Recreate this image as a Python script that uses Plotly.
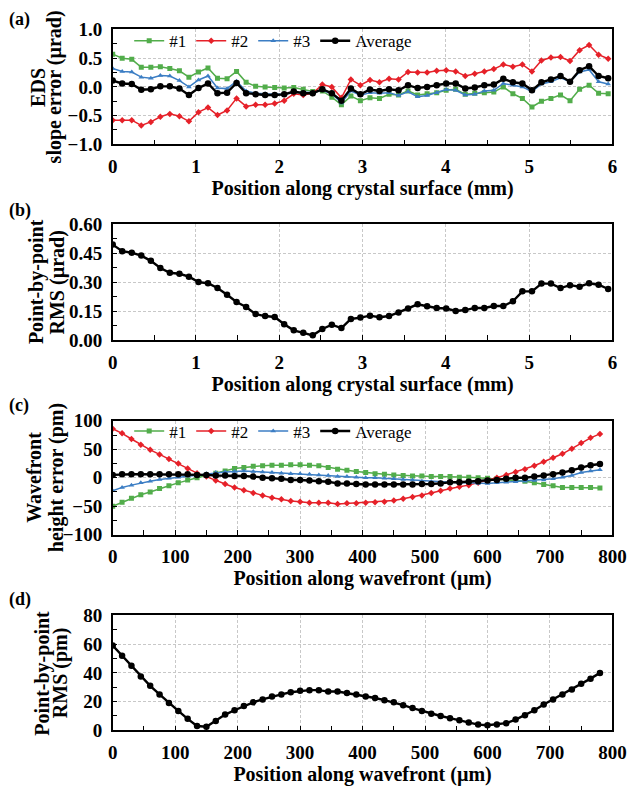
import plotly.graph_objects as go

# ---------------- data ----------------
# Panel (a)/(b): position along crystal surface (mm), 53 samples
pos_mm = [0.000, 0.114, 0.229, 0.343, 0.458, 0.572, 0.686, 0.801, 0.915, 1.030,
          1.144, 1.258, 1.373, 1.487, 1.602, 1.716, 1.830, 1.945, 2.059, 2.174,
          2.288, 2.402, 2.517, 2.631, 2.746, 2.860, 2.974, 3.089, 3.203, 3.318,
          3.432, 3.546, 3.661, 3.775, 3.890, 4.004, 4.118, 4.233, 4.347, 4.462,
          4.576, 4.690, 4.805, 4.919, 5.034, 5.148, 5.262, 5.377, 5.491, 5.606,
          5.720, 5.834, 5.949]

eds_1 = [0.57, 0.50, 0.48, 0.34, 0.34, 0.35, 0.32, 0.28, 0.17, 0.26,
         0.33, 0.15, 0.14, 0.27, 0.08, 0.01, 0.00, -0.01, -0.02, -0.01,
         -0.04, -0.08, -0.07, -0.18, -0.31, -0.16, -0.24, -0.19, -0.20, -0.13,
         -0.14, -0.07, -0.14, -0.12, -0.10, -0.06, -0.04, -0.13, -0.11, -0.10,
         -0.09, 0.00, -0.12, -0.20, -0.35, -0.25, -0.20, -0.14, -0.24, -0.04,
         0.03, -0.11, -0.12]
eds_2 = [-0.58, -0.58, -0.58, -0.67, -0.61, -0.52, -0.47, -0.51, -0.60, -0.44,
         -0.36, -0.49, -0.41, -0.20, -0.34, -0.31, -0.31, -0.29, -0.24, -0.12,
         -0.14, -0.11, 0.04, 0.00, -0.19, 0.13, 0.03, 0.12, 0.08, 0.14,
         0.13, 0.26, 0.25, 0.25, 0.28, 0.29, 0.27, 0.19, 0.23, 0.27,
         0.31, 0.39, 0.35, 0.39, 0.27, 0.46, 0.51, 0.52, 0.45, 0.64,
         0.73, 0.56, 0.49]
eds_3 = [0.32, 0.27, 0.26, 0.17, 0.15, 0.20, 0.19, 0.11, 0.00, 0.12,
         0.19, -0.02, -0.03, 0.10, -0.07, -0.11, -0.12, -0.13, -0.13, -0.10,
         -0.09, -0.10, -0.06, -0.12, -0.28, -0.07, -0.15, -0.10, -0.11, -0.10,
         -0.15, -0.085, -0.17, -0.15, -0.10, -0.045, -0.06, -0.14, -0.13, -0.07,
         -0.06, 0.06, 0.03, 0.00, -0.08, 0.05, 0.09, 0.16, 0.09, 0.26,
         0.30, 0.09, 0.05]
eds_avg = [0.11, 0.06, 0.05, -0.05, -0.04, 0.01, 0.01, -0.03, -0.14, -0.02,
           0.06, -0.11, -0.10, 0.07, -0.11, -0.13, -0.14, -0.14, -0.13, -0.08,
           -0.11, -0.11, -0.04, -0.11, -0.24, -0.03, -0.13, -0.045, -0.07, -0.04,
           -0.06, 0.03, -0.02, 0.00, 0.03, 0.06, 0.06, -0.03, -0.01, 0.03,
           0.04, 0.14, 0.08, 0.06, -0.06, 0.08, 0.13, 0.19, 0.09, 0.29,
           0.36, 0.19, 0.15]

rms_slope = [0.494, 0.460, 0.452, 0.437, 0.410, 0.373, 0.348, 0.343, 0.328, 0.300,
             0.294, 0.269, 0.234, 0.197, 0.171, 0.134, 0.124, 0.119, 0.082, 0.050,
             0.037, 0.024, 0.057, 0.079, 0.062, 0.109, 0.116, 0.126, 0.118, 0.124,
             0.143, 0.163, 0.185, 0.175, 0.166, 0.163, 0.150, 0.155, 0.166, 0.166,
             0.176, 0.176, 0.200, 0.252, 0.252, 0.292, 0.292, 0.269, 0.284, 0.276,
             0.294, 0.286, 0.264]

# Panel (c)/(d): position along wavefront (um), 53 samples
pos_um = [0, 15, 30, 45, 60, 75, 90, 105, 120, 135,
          150, 165, 180, 195, 210, 225, 240, 255, 270, 285,
          300, 315, 330, 345, 360, 375, 390, 405, 420, 435,
          450, 465, 480, 495, 510, 525, 540, 555, 570, 585,
          600, 615, 630, 645, 660, 675, 690, 705, 720, 735,
          750, 765, 780]

wf_1 = [-50, -43, -36, -30, -25, -19, -14, -9, -4, 0,
        4, 8, 12, 16, 18, 20, 21, 22, 22, 23,
        23, 22, 21, 18, 15, 13, 11, 9, 7, 6,
        5, 4, 3, 3, 2, 2, 2, 1, 1, 0,
        -1, -2, -3, -4, -6, -9, -12, -14, -17, -17,
        -17, -17, -18]
wf_2 = [86, 78, 68, 58, 49, 41, 33, 25, 16, 8,
        2, -5, -11, -17, -22, -27, -31, -35, -38, -41,
        -42, -44, -44, -44, -46, -45, -45, -44, -43, -42,
        -40, -37, -34, -31, -27, -23, -19, -16, -13, -9,
        -5, 0, 5, 10, 15, 21, 28, 35, 42, 51,
        61, 70, 77]
wf_3 = [-23, -17, -13, -9, -6, -3, -1, 1, 3, 5,
        7, 9, 10, 11, 12, 11, 10, 9, 8, 7,
        7, 6, 5, 4, 2, 2, 1, 0, 0, -1,
        -2, -3, -4, -6, -7, -8, -8, -9, -9, -10,
        -10, -9, -8, -7, -6, -5, -4, -2, 1, 4,
        9, 12, 14]
wf_avg = [5, 6, 6, 6, 6, 6, 6, 6, 6, 5,
          5, 4, 4, 3, 3, 2, 0, -1, -2, -4,
          -4, -5, -6, -7, -10, -10, -11, -12, -12, -12,
          -12, -12, -12, -11, -11, -10, -8, -8, -7, -6,
          -5, -4, -2, 0, 0, 2, 4, 6, 9, 13,
          18, 22, 24]

rms_height = [59, 52, 45, 37.5, 31, 25, 19, 13.5, 8, 3,
              2.5, 6.5, 11, 14, 17, 19.5, 21.5, 23.5, 25, 26.5,
              27.5, 28, 28, 27, 27, 26, 25, 23.5, 22.5, 21,
              19.5, 17.5, 15.5, 13.5, 11.5, 10, 8.5, 7, 5.5, 4,
              3.5, 4, 5, 7.5, 10.5, 14, 18, 21.5, 25, 28.5,
              32.5, 36, 40]

series_names = ["#1", "#2", "#3", "Average"]
series_colors = ["#52ad4b", "#e62129", "#3c7ec4", "#000000"]
series_symbols = ["square", "diamond", "triangle-up", "circle"]

# ---------------- figure ----------------
W, H = 640, 790
FONT = "Liberation Serif, Times New Roman, serif"

def px_y(top, bottom):
    return [1 - bottom / H, 1 - top / H]

x_dom = [111 / W, 626 / W]
panels = {
    1: (20, 138),
    2: (220, 339),
    3: (422, 539),
    4: (622, 740),
}

fig = go.Figure()

def add_series(xs, ys_list, axis_idx, legend_name):
    for name, ys, col, sym in zip(series_names, ys_list, series_colors, series_symbols):
        is_avg = name == "Average"
        fig.add_trace(go.Scatter(
            x=xs, y=ys, name=name, mode="lines+markers",
            line=dict(color=col, width=2.4 if is_avg else 1.5),
            marker=dict(symbol=sym, color=col, size=6.5 if is_avg else 5),
            xaxis=f"x{axis_idx}", yaxis=f"y{axis_idx}",
            legend=legend_name,
        ))

add_series(pos_mm, [eds_1, eds_2, eds_3, eds_avg], 1, "legend")
fig.add_trace(go.Scatter(x=pos_mm, y=rms_slope, mode="lines+markers",
                         line=dict(color="black", width=2.4),
                         marker=dict(symbol="circle", color="black", size=6.5),
                         xaxis="x2", yaxis="y2", showlegend=False))
add_series(pos_um, [wf_1, wf_2, wf_3, wf_avg], 3, "legend2")
fig.add_trace(go.Scatter(x=pos_um, y=rms_height, mode="lines+markers",
                         line=dict(color="black", width=2.4),
                         marker=dict(symbol="circle", color="black", size=6.5),
                         xaxis="x4", yaxis="y4", showlegend=False))

tickfont = dict(family=FONT, size=19, color="black", weight="bold")
titlefont = dict(family=FONT, size=20, color="black", weight="bold")
GRID = dict(showgrid=True, gridcolor="#c8c8c8", griddash="3px,2px", gridwidth=1)

def xaxis_cfg(anchor, rng, dtick, minor, title):
    return dict(
        domain=x_dom, anchor=anchor, range=rng, dtick=dtick, tick0=0,
        showline=True, linecolor="black", linewidth=1.5, mirror=True,
        ticks="inside", ticklen=5, tickwidth=1.3, tickcolor="black",
        minor=dict(dtick=minor, ticks="inside", ticklen=5, tickwidth=1.3,
                   tickcolor="black", showgrid=False),
        zeroline=False, tickfont=tickfont,
        title=dict(text=title, font=titlefont, standoff=3),
        ticklabelstandoff=4, **GRID,
    )

def yaxis_cfg(anchor, idx, rng, dtick, minor, fmt):
    top, bottom = panels[idx]
    return dict(
        domain=px_y(top, bottom), anchor=anchor, range=rng, dtick=dtick, tick0=0,
        tickformat=fmt,
        showline=True, linecolor="black", linewidth=1.5, mirror=True,
        ticks="inside", ticklen=5, tickwidth=1.3, tickcolor="black",
        minor=dict(dtick=minor, ticks="inside", ticklen=5, tickwidth=1.3,
                   tickcolor="black", showgrid=False),
        zeroline=False, tickfont=tickfont,
        ticklabelstandoff=5, **GRID,
    )

xt_mm = "Position along crystal surface (mm)"
xt_um = "Position along wavefront (µm)"

legend_common = dict(orientation="h", xanchor="left", yanchor="middle",
                     bgcolor="rgba(0,0,0,0)", font=dict(family=FONT, size=17, color="black"),
                     tracegroupgap=0, itemwidth=30)

fig.update_layout(
    width=W, height=H,
    margin=dict(l=0, r=0, t=0, b=0),
    paper_bgcolor="white", plot_bgcolor="white",
    font=dict(family=FONT, color="black"),
    xaxis=xaxis_cfg("y", [0, 6], 1, 0.5, xt_mm),
    yaxis=yaxis_cfg("x", 1, [-1, 1], 0.5, 0.25, ".1f"),
    xaxis2=xaxis_cfg("y2", [0, 6], 1, 0.5, xt_mm),
    yaxis2=yaxis_cfg("x2", 2, [0, 0.6], 0.15, 0.075, ".2f"),
    xaxis3=xaxis_cfg("y3", [0, 800], 100, 50, xt_um),
    yaxis3=yaxis_cfg("x3", 3, [-100, 100], 50, 25, "d"),
    xaxis4=xaxis_cfg("y4", [0, 800], 100, 50, xt_um),
    yaxis4=yaxis_cfg("x4", 4, [0, 80], 20, 10, "d"),
    legend=dict(x=128 / W, y=1 - 32 / H, **legend_common),
    legend2=dict(x=128 / W, y=1 - 433 / H, **legend_common),
    showlegend=True,
)

# two-line y-axis titles (tight line spacing as in the original)
ytitles = {
    1: ("EDS", "slope error (µrad)", 34, 51),
    2: ("Point-by-point", "RMS (µrad)", 32, 54),
    3: ("Wavefront", "height error (pm)", 30, 53),
    4: ("Point-by-point", "RMS (pm)", 39, 58),
}
for idx, (l1, l2, x1, x2) in ytitles.items():
    top, bottom = panels[idx]
    yc = 1 - (top + bottom) / 2 / H
    for txt, xc in ((l1, x1), (l2, x2)):
        fig.add_annotation(text=txt, xref="paper", yref="paper", x=xc / W, y=yc,
                           xanchor="center", yanchor="middle", textangle=-90,
                           showarrow=False, font=titlefont)

for lab, ycen in [("(a)", 10), ("(b)", 206), ("(c)", 406), ("(d)", 606)]:
    fig.add_annotation(text=lab, xref="paper", yref="paper", x=2 / W, y=1 - ycen / H,
                       xanchor="left", yanchor="middle", showarrow=False,
                       font=dict(family=FONT, size=18, color="black", weight="bold"))

fig.write_html("out.html", config={"displayModeBar": False},
               post_script="document.body.style.margin='0px';")
